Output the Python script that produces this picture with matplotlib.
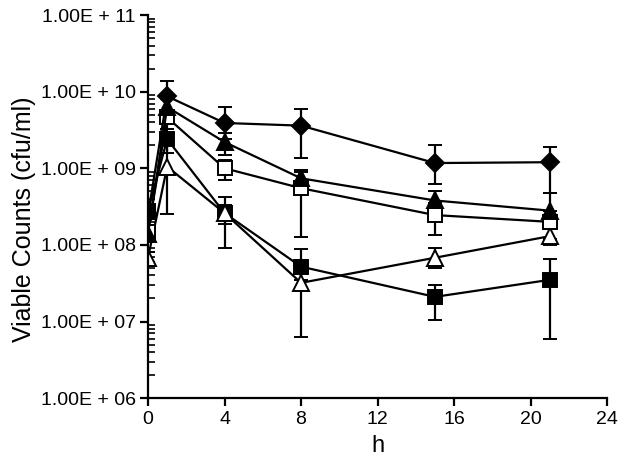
import matplotlib
matplotlib.use("Agg")
import matplotlib.pyplot as plt
import numpy as np

plt.rcParams['font.family'] = ['Liberation Sans', 'DejaVu Sans']

hours = [0, 1, 4, 8, 15, 21]

# mean counts (cfu/ml) per series
diamond_f = [2.5e8, 8.7e9, 3.9e9, 3.6e9, 1.17e9, 1.2e9]
triangle_f = [1.4e8, 6.3e9, 2.2e9, 7.4e8, 3.8e8, 2.8e8]
square_o = [1.48e8, 4.6e9, 1.0e9, 5.5e8, 2.45e8, 2.0e8]
triangle_o = [6.8e7, 1.05e9, 2.6e8, 3.2e7, 6.8e7, 1.3e8]
square_f = [2.8e8, 2.4e9, 2.6e8, 5.2e7, 2.1e7, 3.5e7]

# error bar ends (low, high)
diamond_lo = [2.2e8, 5.5e9, 2.4e9, 1.35e9, 6.2e8, 4.8e8]
diamond_hi = [2.8e8, 1.38e10, 6.3e9, 5.9e9, 2.0e9, 1.9e9]
triangle_f_lo = [1.2e8, 4.0e9, 1.5e9, 4.5e8, 2.5e8, 1.6e8]
triangle_f_hi = [1.6e8, 8.0e9, 2.9e9, 9.0e8, 5.0e8, 4.8e8]
square_o_lo = [1.2e8, 3.3e9, 7.0e8, 1.26e8, 1.35e8, 1.2e8]
square_o_hi = [1.7e8, 5.8e9, 1.3e9, 9.5e8, 3.5e8, 2.8e8]
triangle_o_lo = [5.5e7, 2.5e8, 9.0e7, 6.3e6, 5.0e7, 1.0e8]
triangle_o_hi = [8.0e7, 3.0e9, 4.2e8, 6.0e7, 9.0e7, 1.6e8]
square_f_lo = [2.5e8, 1.6e9, 1.9e8, 3.5e7, 1.05e7, 5.9e6]
square_f_hi = [3.1e8, 3.3e9, 3.3e8, 8.9e7, 3.0e7, 6.5e7]

ytick_vals = [1e6, 1e7, 1e8, 1e9, 1e10, 1e11]
ytick_labels = ['1.00E + 06', '1.00E + 07', '1.00E + 08', '1.00E + 09', '1.00E + 10', '1.00E + 11']
xticks = [0, 4, 8, 12, 16, 20, 24]

fig = plt.figure(figsize=(6.22, 4.69), dpi=100)
ax = fig.add_axes([0.238, 0.151, 0.738, 0.817])

series = [
    (square_f, square_f_lo, square_f_hi, 's', 'black', 10),
    (triangle_o, triangle_o_lo, triangle_o_hi, '^', 'white', 11),
    (square_o, square_o_lo, square_o_hi, 's', 'white', 10),
    (triangle_f, triangle_f_lo, triangle_f_hi, '^', 'black', 11),
    (diamond_f, diamond_lo, diamond_hi, 'D', 'black', 9),
]
for y, lo, hi, m, fc, ms in series:
    y = np.array(y)
    err = [y - np.array(lo), np.array(hi) - y]
    ax.errorbar(hours, y, yerr=err, color='black', lw=1.6, elinewidth=1.6,
                capsize=5, capthick=1.6, marker=m, mfc=fc, mec='black',
                mew=1.4, ms=ms)

ax.set_yscale('log')
ax.set_ylim(1e6, 1e11)
ax.set_xlim(0, 24)
ax.set_yticks(ytick_vals)
ax.set_yticklabels(ytick_labels)
ax.set_xticks(xticks)
ax.spines['top'].set_visible(False)
ax.spines['right'].set_visible(False)
ax.spines['left'].set_linewidth(1.6)
ax.spines['bottom'].set_linewidth(1.6)
ax.tick_params(axis='both', which='major', direction='out', length=6, width=1.6,
               labelsize=14, pad=3)
ax.tick_params(axis='y', which='minor', direction='in', length=5, width=1.2)
ax.set_xlabel('h', fontsize=17, labelpad=5)
ax.set_ylabel('Viable Counts (cfu/ml)', fontsize=18, labelpad=3)
ax.yaxis.label.set_y(0.467)

fig.savefig('out.png', dpi=100)
